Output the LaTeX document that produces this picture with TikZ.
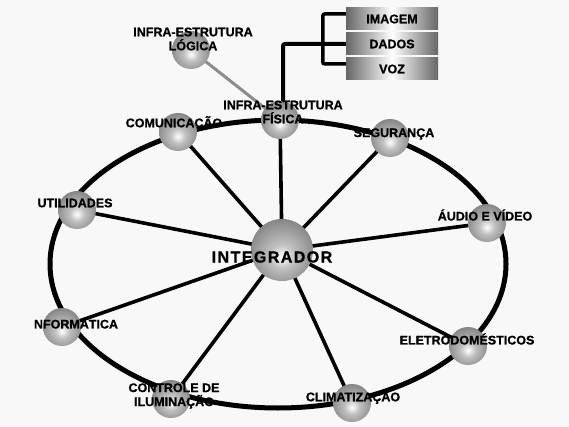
\documentclass[tikz,border=0pt]{standalone}
\usepackage{fontspec}
\setmainfont{Liberation Sans}
\pgfdeclareradialshading{sphereshade}{\pgfpoint{0bp}{-6bp}}{color(0bp)=(white); color(10bp)=(black!25); color(26bp)=(black!45); color(40bp)=(black!62); color(58bp)=(black!80)}
\pgfdeclarelayer{back}
\pgfdeclarelayer{lines}
\pgfsetlayers{back,lines,main}
\definecolor{bgc}{RGB}{248,248,248}
\newcommand{\lblfont}{\fontsize{12.5}{14}\selectfont\bfseries\addfontfeature{FakeBold=1}}
\tikzset{
  sph/.style={circle, minimum size=38pt, inner sep=0pt, shade, shading=sphereshade},
  lbl/.style={font=\lblfont, align=center, inner sep=0pt},
  spoke/.style={line width=3.6pt, black},
  ring/.style={line width=5pt, black},
  brk/.style={line width=3.5pt, black, rounded corners=2pt},
  glink/.style={line width=3pt, black!45},
  databox/.style={minimum width=92pt, minimum height=22pt, inner sep=0pt,
    left color=black!60, right color=black!60, middle color=white,
    font=\lblfont},
}
\begin{document}
\begin{tikzpicture}[x=1pt,y=-1pt]
\begin{pgfonlayer}{back}
\fill[bgc] (0,0) rectangle (569,427);
\end{pgfonlayer}
\useasboundingbox (0,0) rectangle (569,427);

% spheres
\node[sph, minimum size=62pt] (int) at (282,250) {};
\node[sph] (log) at (191,50) {};
\node[sph] (fis) at (280,120) {};
\node[sph] (com) at (178,132) {};
\node[sph] (seg) at (390,138) {};
\node[sph] (uti) at (77,210) {};
\node[sph] (aud) at (487,223) {};
\node[sph] (ele) at (468,346) {};
\node[sph] (cli) at (352,403) {};
\node[sph] (ctl) at (171,399) {};
\node[sph] (inf) at (62,327) {};

% data boxes
\node[databox] (imagem) at (392,19) {IMAGEM};
\node[databox] (dados) at (392,44) {DADOS};
\node[databox] (voz) at (392,69) {VOZ};

\begin{pgfonlayer}{lines}
\draw[ring] (278,264) ellipse [x radius=228pt, y radius=144pt];
\foreach \n in {fis,com,seg,uti,aud,ele,cli,ctl,inf}
  \draw[spoke] (int.center) -- (\n.center);
\draw[glink] (log.center) -- (fis.center);
\draw[brk, line width=4pt] ([xshift=3pt]fis.center) |- (dados.west);
\draw[brk] ([yshift=5pt]imagem.west) -| ([xshift=-23pt,yshift=5pt]voz.west) -- ([yshift=5pt]voz.west);
\end{pgfonlayer}

% labels
\node[lbl] (tlog) at (193,39) {INFRA-ESTRUTURA\\LÓGICA};
\node[lbl] (tfis) at (283,112) {INFRA-ESTRUTURA\\FÍSICA};
\node[lbl] (tcom) at (174,123) {COMUNICAÇÃO};
\node[lbl] (tseg) at (394,134) {SEGURANÇA};
\node[lbl] (tuti) at (75,203) {UTILIDADES};
\node[lbl] (taud) at (485,215) {ÁUDIO E VÍDEO};
\node[lbl, font=\fontsize{16}{18}\selectfont\bfseries\addfontfeature{FakeBold=1,LetterSpace=9}] (tint) at (272,257) {INTEGRADOR};
\node[lbl] (tinf) at (76,323) {NFORMÁTICA};
\node[lbl] (tctl) at (174,396) {CONTROLE DE\\ILUMINAÇÃO};
\node[lbl] (tcli) at (353,397) {CLIMATIZAÇÃO};
\node[lbl] (tele) at (467,339) {ELETRODOMÉSTICOS};
\end{tikzpicture}
\end{document}
